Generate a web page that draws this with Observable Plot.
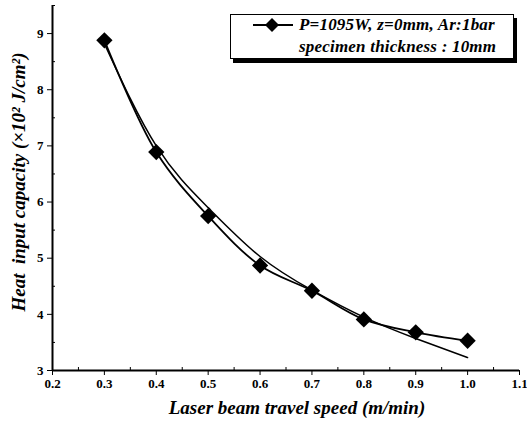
<!DOCTYPE html>
<html><head><meta charset="utf-8">
<script src="https://cdn.jsdelivr.net/npm/d3@7"></script>
<script src="https://cdn.jsdelivr.net/npm/@observablehq/plot@0.6"></script>
<style>
body{margin:0;background:#fff;}
#wrap{position:relative;width:527px;height:429px;font-family:'Liberation Serif',serif;}
#wrap svg text{font-family:'Liberation Serif',serif;}
#legend{position:absolute;left:230px;top:14px;width:282px;height:43px;border:1.5px solid #000;box-shadow:3px 4px 0 #000;background:#fff;font-family:'Liberation Serif',serif;font-weight:bold;font-style:italic;font-size:17px;letter-spacing:0.2px;line-height:20px;}
#legend .l1{position:absolute;left:68px;top:0px;white-space:nowrap;}
#legend .l2{position:absolute;left:68px;top:22px;white-space:nowrap;}
#legend svg{position:absolute;left:20px;top:2px;}
</style></head>
<body><div id="wrap"><div id="legend"><svg width="46" height="16"><line x1="2" y1="8" x2="42" y2="8" stroke="#000" stroke-width="2"/><path d="M21,1 L28,8 L21,15 L14,8Z" fill="#000"/></svg><span class="l1">P=1095W, z=0mm, Ar:1bar</span><span class="l2">specimen thickness : 10mm</span></div></div>
<script>
const speeds = [0.3, 0.4, 0.5, 0.6, 0.7, 0.8, 0.9, 1.0];
const heatInput = [8.88, 6.89, 5.75, 4.87, 4.42, 3.91, 3.68, 3.53];
const fitSpeeds = [0.3, 0.4, 0.5, 0.6, 0.7, 0.8, 0.9, 1.0];
const fitValues = [8.82, 7.0, 5.9, 5.03, 4.43, 3.95, 3.57, 3.23];
const xTicks = [0.2, 0.3, 0.4, 0.5, 0.6, 0.7, 0.8, 0.9, 1.0, 1.1];
const xMinor = [0.25, 0.35, 0.45, 0.55, 0.65, 0.75, 0.85, 0.95, 1.05];
const yTicks = [3, 4, 5, 6, 7, 8, 9];
const yMinor = [3.5, 4.5, 5.5, 6.5, 7.5, 8.5, 9.5];
const xTitle = "Laser beam travel speed (m/min)";
const yTitle = "Heat  input capacity (×10² J/cm²)";

const data = speeds.map((s, i) => ({s, v: heatInput[i]}));
const fit = fitSpeeds.map((s, i) => ({s, v: fitValues[i]}));
const FF = "Liberation Serif";

const chart = Plot.plot({
  width: 527, height: 429,
  marginLeft: 52, marginRight: 8, marginTop: 5, marginBottom: 59,
  style: {fontFamily: FF, fontSize: "13px", fontWeight: "bold", color: "#000", background: "#fff"},
  x: {domain: [0.2, 1.1]},
  y: {domain: [3, 9.5]},
  marks: [
    Plot.axisX({ticks: xTicks, tickSize: 5, tickFormat: d3.format(".1f"), tickPadding: 3, label: null, fontSize: 13, fontFamily: FF}),
    Plot.axisX({ticks: xMinor, tickSize: -3, tickFormat: () => "", label: null}),
    Plot.axisY({ticks: yTicks, tickSize: 5, tickPadding: 4, tickFormat: d3.format("d"), label: null, fontSize: 13, fontFamily: FF}),
    Plot.axisY({ticks: yMinor, tickSize: -3, tickFormat: () => "", label: null}),
    Plot.ruleX([0.2], {strokeWidth: 2}),
    Plot.ruleY([3], {strokeWidth: 2}),
    Plot.line(fit, {x: "s", y: "v", curve: "natural", stroke: "#000", strokeWidth: 1.5}),
    Plot.line(data, {x: "s", y: "v", curve: "catmull-rom", stroke: "#000", strokeWidth: 1.8}),
    Plot.dot(data, {x: "s", y: "v", symbol: "square", rotate: 45, r: 6.5, fill: "#000", stroke: "none"}),
    Plot.text([xTitle], {frameAnchor: "bottom", textAnchor: "middle", dx: 11, dy: 43, fontSize: 19, fontFamily: FF, fontStyle: "italic", fontWeight: "bold"}),
    Plot.text([yTitle], {frameAnchor: "left", textAnchor: "middle", dx: -34, dy: -6, rotate: -90, fontSize: 19, fontFamily: FF, fontStyle: "italic", fontWeight: "bold"})
  ]
});
document.getElementById("wrap").prepend(chart);
chart.style.position = "absolute"; chart.style.left = "0"; chart.style.top = "0";
</script></body></html>
